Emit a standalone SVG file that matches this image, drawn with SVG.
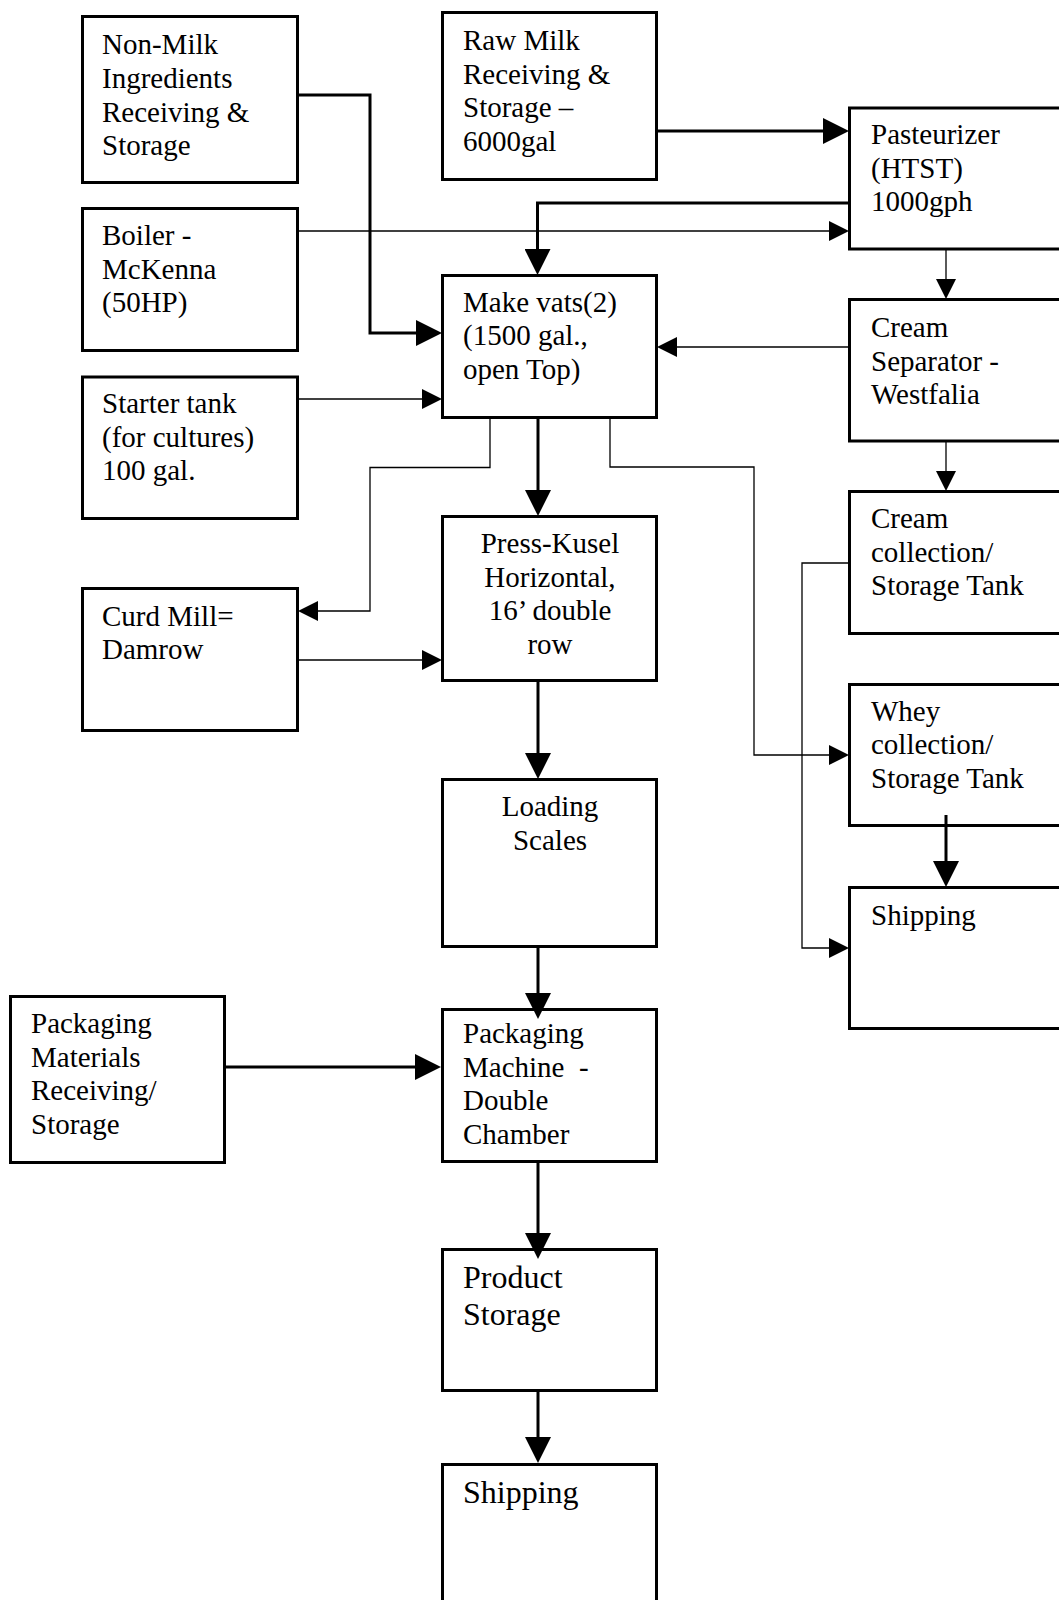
<svg xmlns="http://www.w3.org/2000/svg" width="1059" height="1600" viewBox="0 0 1059 1600">
<style>
.box{fill:#fff;stroke:#000;stroke-width:3}
.t{font-family:"Liberation Serif","Times New Roman",serif;font-size:29px;fill:#000;white-space:pre}
.tc{text-anchor:middle}
.big{font-size:32px}
.thick{fill:none;stroke:#000;stroke-width:3}
.thin{fill:none;stroke:#000;stroke-width:1.3}
</style>
<defs>
<marker id="aT" markerUnits="userSpaceOnUse" markerWidth="26" markerHeight="26" viewBox="0 0 25 25" refX="0" refY="12.5" orient="auto"><path d="M0,0 L25,12.5 L0,25 z" fill="#000"/></marker>
<marker id="at" markerUnits="userSpaceOnUse" markerWidth="20" markerHeight="20" viewBox="0 0 19 19" refX="0" refY="9.5" orient="auto"><path d="M0,0 L19,9.5 L0,19 z" fill="#000"/></marker>
</defs>
<rect width="1059" height="1600" fill="#fff"/>

<g id="nonmilk"><rect class="box" x="82.5" y="16.5" width="215" height="166"/>
<text class="t" x="102"><tspan x="102" y="54">Non-Milk</tspan><tspan x="102" y="88">Ingredients</tspan><tspan x="102" y="121.5">Receiving &amp;</tspan><tspan x="102" y="155">Storage</tspan></text></g>

<g id="rawmilk"><rect class="box" x="442.5" y="12.5" width="214" height="167"/>
<text class="t"><tspan x="463" y="50">Raw Milk</tspan><tspan x="463" y="83.5">Receiving &amp;</tspan><tspan x="463" y="117">Storage –</tspan><tspan x="463" y="150.5">6000gal</tspan></text></g>

<g id="pasteurizer"><rect class="box" x="849.5" y="108" width="240" height="141"/>
<text class="t"><tspan x="871" y="144">Pasteurizer</tspan><tspan x="871" y="177.5">(HTST)</tspan><tspan x="871" y="211">1000gph</tspan></text></g>

<g id="boiler"><rect class="box" x="82.5" y="208.5" width="215" height="142"/>
<text class="t"><tspan x="102" y="245">Boiler -</tspan><tspan x="102" y="278.5">McKenna</tspan><tspan x="102" y="312">(50HP)</tspan></text></g>

<g id="makevats"><rect class="box" x="442.5" y="275.5" width="214" height="142"/>
<text class="t"><tspan x="463" y="311.5">Make vats(2)</tspan><tspan x="463" y="345">(1500 gal.,</tspan><tspan x="463" y="378.5">open Top)</tspan></text></g>

<g id="creamsep"><rect class="box" x="849.5" y="299.5" width="240" height="141.5"/>
<text class="t"><tspan x="871" y="337">Cream</tspan><tspan x="871" y="370.5">Separator -</tspan><tspan x="871" y="404">Westfalia</tspan></text></g>

<g id="starter"><rect class="box" x="82.5" y="377" width="215" height="141.5"/>
<text class="t"><tspan x="102" y="413">Starter tank</tspan><tspan x="102" y="446.5">(for cultures)</tspan><tspan x="102" y="480">100 gal.</tspan></text></g>

<g id="press"><rect class="box" x="442.5" y="516.5" width="214" height="164"/>
<text class="t tc"><tspan x="550" y="553">Press-Kusel</tspan><tspan x="550" y="586.5">Horizontal,</tspan><tspan x="550" y="620">16’ double</tspan><tspan x="550" y="653.5">row</tspan></text></g>

<g id="creamcoll"><rect class="box" x="849.5" y="491.5" width="240" height="142"/>
<text class="t"><tspan x="871" y="528">Cream</tspan><tspan x="871" y="561.5">collection/</tspan><tspan x="871" y="595">Storage Tank</tspan></text></g>

<g id="curdmill"><rect class="box" x="82.5" y="588.5" width="215" height="142"/>
<text class="t"><tspan x="102" y="625.5">Curd Mill=</tspan><tspan x="102" y="659">Damrow</tspan></text></g>

<g id="whey"><rect class="box" x="849.5" y="684.5" width="240" height="141"/>
<text class="t"><tspan x="871" y="720.5">Whey</tspan><tspan x="871" y="754">collection/</tspan><tspan x="871" y="787.5">Storage Tank</tspan></text></g>

<g id="loading"><rect class="box" x="442.5" y="779.5" width="214" height="167"/>
<text class="t tc"><tspan x="550" y="816">Loading</tspan><tspan x="550" y="849.5">Scales</tspan></text></g>

<g id="shipping-right"><rect class="box" x="849.5" y="887.5" width="240" height="141"/>
<text class="t" x="871" y="924.5">Shipping</text></g>

<g id="pkgmaterials"><rect class="box" x="10.5" y="996.5" width="214" height="166"/>
<text class="t"><tspan x="31" y="1033">Packaging</tspan><tspan x="31" y="1066.5">Materials</tspan><tspan x="31" y="1100">Receiving/</tspan><tspan x="31" y="1133.5">Storage</tspan></text></g>

<g id="pkgmachine"><rect class="box" x="442.5" y="1009.5" width="214" height="152"/>
<text class="t"><tspan x="463" y="1043">Packaging</tspan><tspan x="463" y="1076.5">Machine  -</tspan><tspan x="463" y="1110">Double</tspan><tspan x="463" y="1143.5">Chamber</tspan></text></g>

<g id="productstorage"><rect class="box" x="442.5" y="1249.5" width="214" height="141"/>
<text class="t big"><tspan x="463" y="1288">Product</tspan><tspan x="463" y="1325">Storage</tspan></text></g>

<g id="shipping-bottom"><rect class="box" x="442.5" y="1464.5" width="214" height="200"/>
<text class="t big" x="463" y="1503">Shipping</text></g>

<g id="connectors">
<path class="thick" d="M658,131 H823" marker-end="url(#aT)"/>
<path class="thick" d="M848,203 H537.5 V249" marker-end="url(#aT)"/>
<path class="thick" d="M299,95 H370 V333 H416" marker-end="url(#aT)"/>
<path class="thick" d="M538,419 V490" marker-end="url(#aT)"/>
<path class="thick" d="M538,682 V753" marker-end="url(#aT)"/>
<path class="thick" d="M538,948 V993" marker-end="url(#aT)"/>
<path class="thick" d="M226,1067 H415" marker-end="url(#aT)"/>
<path class="thick" d="M538,1163 V1233" marker-end="url(#aT)"/>
<path class="thick" d="M538,1392 V1437" marker-end="url(#aT)"/>
<path class="thick" d="M946,815 V861" marker-end="url(#aT)"/>
<path class="thin" d="M299,231 H829" marker-end="url(#at)"/>
<path class="thin" d="M946,250 V279" marker-end="url(#at)"/>
<path class="thin" d="M848,347 H677" marker-end="url(#at)"/>
<path class="thin" d="M299,399 H422" marker-end="url(#at)"/>
<path class="thin" d="M490,419 V467.5 H370 V611 H318" marker-end="url(#at)"/>
<path class="thin" d="M299,660 H422" marker-end="url(#at)"/>
<path class="thin" d="M610,419 V467 H754 V755 H829" marker-end="url(#at)"/>
<path class="thin" d="M946,442 V471" marker-end="url(#at)"/>
<path class="thin" d="M848,563 H802 V948 H829" marker-end="url(#at)"/>
</g>
</svg>
